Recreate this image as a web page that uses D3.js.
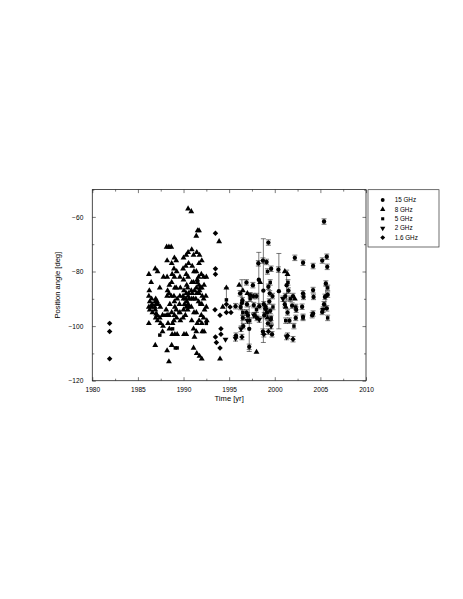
<!DOCTYPE html>
<html>
<head>
<meta charset="utf-8">
<script src="https://cdn.jsdelivr.net/npm/d3@7"></script>
<style>
  body { margin: 0; background: #fff; }
  svg { display: block; font-family: "Liberation Sans", Arial, sans-serif; }
  .axis line { stroke: #222; stroke-width: 0.6; }
</style>
</head>
<body>
<div id="chart"></div>
<script>
// position angle vs time, per observing frequency: [year, angle, error]
var ghz15 = [
  [1995.7,-92.7,1],[1995.75,-103.5,1],[1996.2,-88,1],[1996.25,-93,1],[1996.4,-91.5,8.5],[1996.45,-90.5,1],
  [1996.5,-97,1],[1996.55,-100,1],[1996.9,-84,1],[1996.95,-92,1],[1997.05,-96,1],[1997.2,-101,8.3],
  [1997.2,-107.6,1],[1997.3,-88.7,1],[1997.6,-85,1],[1997.7,-92.3,1],[1997.8,-96,1],[1998.0,-89,1],
  [1998.2,-77,1],[1998.25,-83,10],[1998.3,-92.7,1],[1998.7,-76,1],[1998.75,-87,19],[1998.8,-92,1],
  [1998.85,-96,1],[1998.7,-102,1],[1999.0,-93,1],[1999.1,-76.5,1],[1999.3,-69.4,1],[1999.3,-85.6,1],
  [1999.4,-91,1],[1999.5,-94.4,1],[1999.55,-97.6,1],[1999.6,-79,1],[1999.7,-103,1],[1999.75,-89,1],
  [2000.4,-79.3,1],[2000.45,-87.2,13.8],[2001.1,-92,1],[2001.4,-95,1],[2001.5,-87,1],[2001.3,-85,5.5],
  [2001.9,-92.5,1],[2002.2,-75,1],[2002.3,-97,1],[2003.1,-76.8,1],[2003.1,-88,1],[2003.15,-89.3,1],
  [2003.0,-92.9,1],[2003.1,-96.6,1],[2004.2,-78,1],[2004.2,-86.8,1],[2004.25,-89.3,1],[2004.2,-95.4,1],
  [2004.1,-96,1],[2005.2,-76,1],[2005.4,-61.7,1],[2005.4,-92,1],[2005.5,-89.3,1],[2005.7,-74.6,1],
  [2005.75,-78.3,1],[2005.6,-84.4,1],[2005.8,-88.5,1],[2005.7,-93.5,1],[2005.2,-94.8,1],[2005.6,-89,4],
  [1996.9,-95,1],[1997.65,-89,1],[1998.05,-97,1],[1999.15,-95,1],[1999.25,-99,1],[1999.45,-88,1],
  [2001.15,-89,1],[2001.6,-98,1],[2002.0,-89,1],[2002.35,-94,1]
];
var ghz8 = [
  [1986.2,-81],[1986.25,-87],[1986.2,-89],[1986.3,-91],[1986.2,-93],[1986.3,-94],[1986.2,-99],
  [1986.5,-90],[1986.55,-92],[1986.5,-93],[1986.6,-95],[1986.45,-84],
  [1986.9,-79],[1986.95,-90],[1986.9,-91],[1987.0,-92],[1986.85,-93],[1986.9,-94],[1987.0,-95.5],[1986.95,-97],[1986.9,-107],
  [1987.15,-80],[1987.1,-91],[1987.2,-92],[1987.1,-96],[1987.15,-98],
  [1987.4,-86],[1987.45,-93],[1987.4,-97],[1987.5,-99],
  [1987.7,-96],[1987.75,-100],[1987.7,-102],[1987.8,-82],
  [1988.15,-71],[1988.2,-76],[1988.2,-82],[1988.25,-87],[1988.2,-89],[1988.1,-94],[1988.2,-96],[1988.3,-99],[1988.2,-109],
  [1988.4,-71],[1988.45,-85],[1988.4,-88],[1988.5,-92],[1988.4,-96],[1988.45,-101],[1988.4,-113],
  [1988.65,-71],[1988.7,-77],[1988.75,-81],[1988.7,-84],[1988.65,-89],[1988.7,-95],[1988.8,-99],[1988.7,-107],[1988.75,-103],
  [1989.0,-75],[1988.95,-79],[1989.0,-82],[1989.05,-86],[1988.95,-89],[1989.0,-91],[1989.05,-93],[1989.0,-96],[1988.95,-98],[1989.05,-103],
  [1989.2,-76],[1989.25,-80],[1989.2,-86],[1989.3,-90],[1989.2,-94],[1989.25,-97],[1989.3,-103],
  [1989.6,-82],[1989.65,-86],[1989.6,-89],[1989.55,-92],[1989.6,-95],[1989.65,-98],
  [1990.0,-75],[1989.95,-79],[1990.0,-83],[1990.05,-87],[1989.95,-89],[1990.0,-90],[1990.1,-92],[1990.0,-94],[1989.95,-97],[1990.05,-103],
  [1990.3,-74],[1990.25,-78],[1990.3,-81],[1990.35,-85],[1990.3,-88],[1990.25,-90],[1990.35,-91],[1990.3,-93],[1990.2,-96],[1990.3,-103],
  [1990.5,-57],[1990.5,-73],[1990.55,-77],[1990.5,-82],[1990.45,-86],[1990.55,-88],[1990.5,-89],[1990.6,-90],[1990.5,-92],[1990.45,-94],
  [1990.85,-58],[1990.9,-72],[1990.95,-78],[1990.9,-84],[1990.85,-87],[1990.95,-88],[1990.9,-90],[1990.85,-93],[1990.9,-98],
  [1991.1,-74],[1991.15,-80],[1991.1,-84],[1991.2,-87],[1991.1,-90],[1991.15,-95],[1991.1,-101],[1991.2,-104],[1991.1,-108],
  [1991.4,-67],[1991.45,-73],[1991.4,-80],[1991.5,-83],[1991.4,-86],[1991.45,-88],[1991.35,-90],[1991.4,-95],[1991.5,-99],[1991.4,-102],[1991.45,-110],
  [1991.7,-65],[1991.75,-74],[1991.7,-77],[1991.65,-82],[1991.7,-85],[1991.8,-86],[1991.75,-87],[1991.7,-88],[1991.65,-91],[1991.7,-98],[1991.75,-111],
  [1991.55,-65],
  [1992.0,-76],[1991.95,-81],[1992.0,-86],[1992.05,-89],[1992.0,-92],[1991.95,-96],[1992.0,-99],[1992.05,-102],[1992.0,-112],
  [1992.2,-82],[1992.25,-85],[1992.2,-90],[1992.3,-94],[1992.2,-97],[1992.25,-102],
  [1992.5,-82],[1992.45,-89],[1992.5,-93],[1992.55,-98],
  [1993.9,-69],[1994.0,-112],[1994.3,-93],[1994.7,-86],
  [1996.1,-85],[1996.5,-87],[1997.0,-88],[1998.0,-109.5],[1998.4,-84],[1999.2,-97],
  [2001.1,-80],[2001.4,-81],[2001.2,-93],[2002.2,-90]
];
var ghz5 = [
  [1987.4,-103.3],[1989.3,-108],[1989.1,-108],[1988.0,-96],[1988.8,-101],[1989.5,-95],
  [1990.6,-93],[1991.5,-84],[1991.8,-92],[1992.5,-99],[1994.7,-90.4,4.5],
  [1996.5,-95,1],[1997.3,-90,1],[1997.25,-98,1],[1998.0,-94,1],[1999.2,-80,1],[1999.5,-84,1],
  [1999.6,-97,1],[1999.8,-93,1],[2001.2,-98,1],[2001.45,-84,1],[2001.7,-90,1],[2002.1,-100,1],
  [2002.3,-93,1],[2003.1,-97,1],[2005.8,-97,1],[2005.8,-86,1]
];
var ghz2 = [
  [1994.6,-104.9],[1995.7,-104.5,1],[1996.3,-101,1],[1997.0,-98,1],[1997.7,-96,1],[1998.3,-97.6,1],
  [1999.0,-94,1],[1999.6,-100,1],[2000.9,-90,1],[2001.3,-104,1],[2005.3,-94,1]
];
var ghz16 = [
  [1981.9,-99],[1981.9,-102],[1981.9,-112],[1993.5,-66],[1993.5,-79],[1993.5,-81],[1993.45,-94],
  [1993.5,-104],[1993.6,-106],[1994.0,-96],[1994.1,-101],[1994.1,-103],[1994.0,-108],
  [1994.7,-92],[1994.7,-95],[1995.1,-93],[1995.2,-95],[2002.0,-104.8,1],[2001.4,-103.5,1],
  [1996.4,-104,1],[1998.8,-103,1],[1999.3,-102,1]
];

var legendLabels = ['15 GHz', '8 GHz', '5 GHz', '2 GHz', '1.6 GHz'];
var xMajorTicks = [1980, 1985, 1990, 1995, 2000, 2005, 2010];
var xMinorTicks = [1982.5, 1987.5, 1992.5, 1997.5, 2002.5, 2007.5];
var yMajorTicks = [-120, -100, -80, -60];
var yMinorTicks = [-110, -90, -70, -50];

var series = [
  { data: ghz15, symbol: d3.symbolCircle, size: 15, rot: 0 },
  { data: ghz8, symbol: d3.symbolTriangle, size: 15, rot: 0 },
  { data: ghz5, symbol: d3.symbolSquare, size: 12, rot: 0 },
  { data: ghz2, symbol: d3.symbolTriangle, size: 15, rot: 180 },
  { data: ghz16, symbol: d3.symbolSquare, size: 15, rot: 45 }
];

var W = 463, H = 599;
var plot = { left: 92.3, right: 366, top: 189.6, bottom: 380.7 };

var svg = d3.select('#chart').append('svg')
  .attr('width', W).attr('height', H);

var x = d3.scaleLinear().domain([1980, 2010]).range([plot.left, plot.right]);
var y = d3.scaleLinear().domain([-120, -50]).range([plot.bottom, plot.top]);

// frame
svg.append('rect')
  .attr('x', plot.left).attr('y', plot.top)
  .attr('width', plot.right - plot.left).attr('height', plot.bottom - plot.top)
  .attr('fill', 'none').attr('stroke', '#222').attr('stroke-width', 0.8);

var addAxis = function(axis, tx, ty) {
  var g = svg.append('g').attr('class', 'axis')
    .attr('transform', 'translate(' + tx + ',' + ty + ')')
    .call(axis);
  g.select('.domain').remove();
  return g;
};

// inward ticks on all four sides
addAxis(d3.axisBottom(x).tickValues(xMajorTicks).tickSize(-3.5).tickPadding(6.5).tickFormat(d3.format('d')), 0, plot.bottom);
addAxis(d3.axisBottom(x).tickValues(xMinorTicks).tickSize(-2).tickFormat(''), 0, plot.bottom);
addAxis(d3.axisTop(x).tickValues(xMajorTicks).tickSize(-3.5).tickFormat(''), 0, plot.top);
addAxis(d3.axisTop(x).tickValues(xMinorTicks).tickSize(-2).tickFormat(''), 0, plot.top);
addAxis(d3.axisLeft(y).tickValues(yMajorTicks).tickSize(-3.5).tickPadding(9).tickFormat(d3.format('d')), plot.left, 0);
addAxis(d3.axisLeft(y).tickValues(yMinorTicks).tickSize(-2).tickFormat(''), plot.left, 0);
addAxis(d3.axisRight(y).tickValues(yMajorTicks).tickSize(-3.5).tickFormat(''), plot.right, 0);
addAxis(d3.axisRight(y).tickValues(yMinorTicks).tickSize(-2).tickFormat(''), plot.right, 0);

svg.selectAll('.axis text')
  .attr('font-family', '"Liberation Sans", Arial, sans-serif')
  .attr('font-size', 6.6).attr('fill', '#000');

// axis titles
svg.append('text')
  .attr('x', (plot.left + plot.right) / 2).attr('y', 401)
  .attr('text-anchor', 'middle').attr('font-size', 7.6).attr('fill', '#000')
  .text('Time [yr]');
svg.append('text')
  .attr('transform', 'translate(59.5,' + ((plot.top + plot.bottom) / 2) + ') rotate(-90)')
  .attr('text-anchor', 'middle').attr('font-size', 7.6).attr('fill', '#000')
  .text('Position angle [deg]');

// error bars then markers
var capW = 2.5;
var marks = svg.append('g');
series.forEach(function(s) {
  var withErr = s.data.filter(function(d) { return d[2]; });
  var eb = marks.append('g').attr('stroke', '#222').attr('stroke-width', 0.6)
    .selectAll('g').data(withErr).enter().append('g');
  eb.append('line')
    .attr('x1', function(d) { return x(d[0]); }).attr('x2', function(d) { return x(d[0]); })
    .attr('y1', function(d) { return y(d[1] - d[2]); }).attr('y2', function(d) { return y(d[1] + d[2]); });
  [-1, 1].forEach(function(sg) {
    eb.append('line')
      .attr('x1', function(d) { return x(d[0]) - capW; }).attr('x2', function(d) { return x(d[0]) + capW; })
      .attr('y1', function(d) { return y(d[1] + sg * d[2]); }).attr('y2', function(d) { return y(d[1] + sg * d[2]); });
  });
});
series.forEach(function(s) {
  marks.append('g').selectAll('path').data(s.data).enter().append('path')
    .attr('d', d3.symbol().type(s.symbol).size(s.size))
    .attr('transform', function(d) { return 'translate(' + x(d[0]) + ',' + y(d[1]) + ') rotate(' + s.rot + ')'; })
    .attr('fill', '#000');
});

// legend
var lg = svg.append('g');
lg.append('rect')
  .attr('x', 368).attr('y', 189.7).attr('width', 71).attr('height', 57.3)
  .attr('fill', '#fff').attr('stroke', '#333').attr('stroke-width', 0.7);
var rows = lg.selectAll('g.row').data(series).enter().append('g')
  .attr('transform', function(d, i) { return 'translate(382.7,' + (200 + i * 9.4) + ')'; });
rows.append('path')
  .attr('d', function(d) { return d3.symbol().type(d.symbol).size(d.size * 0.8)(); })
  .attr('transform', function(d) { return 'rotate(' + d.rot + ')'; })
  .attr('fill', '#000');
rows.append('text')
  .attr('x', 12).attr('dy', '0.35em')
  .attr('font-size', 6.3).attr('fill', '#000')
  .text(function(d, i) { return legendLabels[i]; });
</script>
</body>
</html>
